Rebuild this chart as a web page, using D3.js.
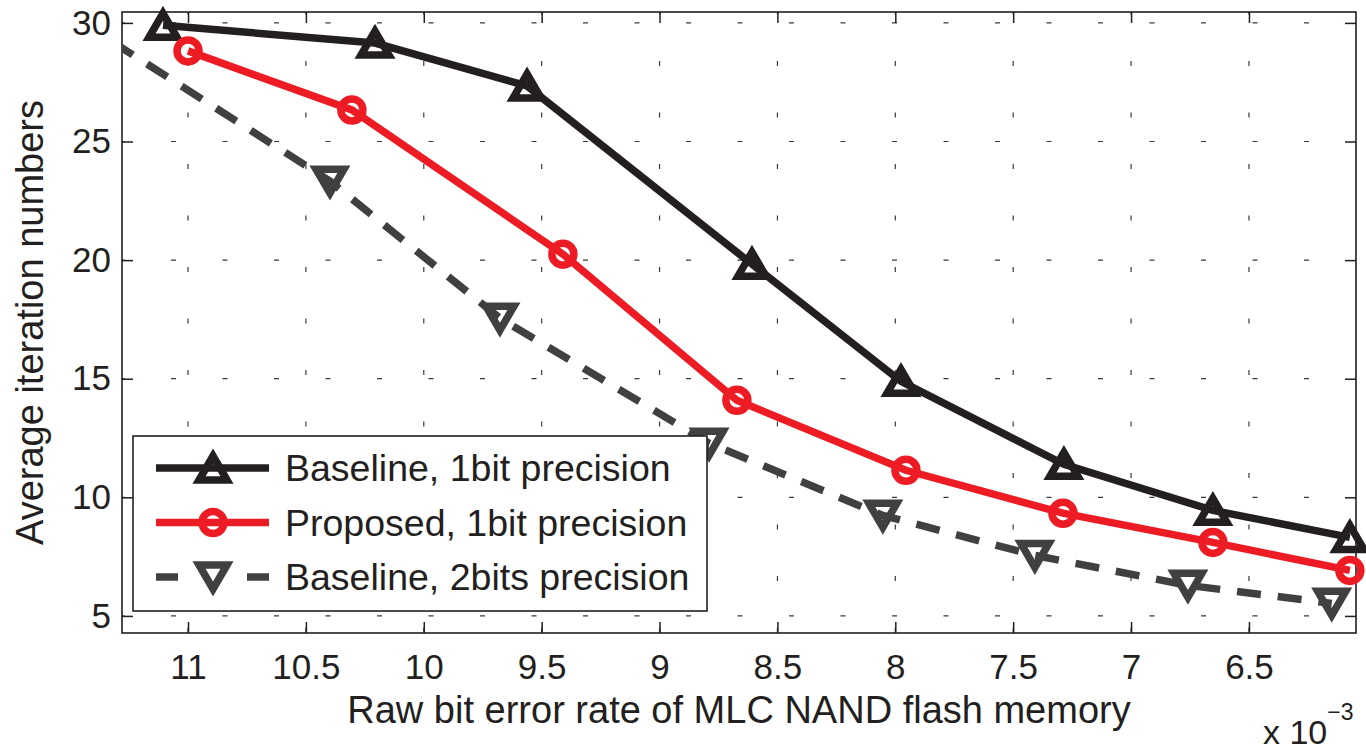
<!DOCTYPE html>
<html>
<head>
<meta charset="utf-8">
<script src="https://cdn.jsdelivr.net/npm/d3@7"></script>
<style>
  body { margin: 0; background: #fff; }
  text { font-family: "Liberation Sans", Arial, sans-serif; fill: #231f20; }
</style>
</head>
<body>
<div id="vi1"></div>
<script>
const margin = { top: 12, right: 10, bottom: 118, left: 122 };
const width = 1366 - margin.left - margin.right;
const height = 751 - margin.top - margin.bottom;

// x values are in units of 1e-3
const xTicks = [11, 10.5, 10, 9.5, 9, 8.5, 8, 7.5, 7, 6.5];
const yTicks = [5, 10, 15, 20, 25, 30];

const base1X = [11.106, 10.207, 9.562, 8.608, 7.976, 7.285, 6.653, 6.072];
const base1Y = [29.9, 29.15, 27.34, 19.83, 14.89, 11.39, 9.45, 8.31];

const propX = [11.0, 10.305, 9.41, 8.672, 7.955, 7.289, 6.653, 6.072];
const propY = [28.82, 26.33, 20.25, 14.09, 11.14, 9.33, 8.10, 6.92];

const base2X = [11.32, 10.398, 9.677, 8.79, 8.053, 7.408, 6.759, 6.149];
const base2Y = [29.2, 23.33, 17.55, 12.28, 9.24, 7.55, 6.29, 5.53];

const seriesNames = ["Baseline, 1bit precision", "Proposed, 1bit precision", "Baseline, 2bits precision"];

const black = "#231f20", red = "#ed1c24", gray = "#404041";
const lw = 7.5;

const series = [
  { name: seriesNames[0], xs: base1X, ys: base1Y, color: black, dash: null, marker: "up" },
  { name: seriesNames[1], xs: propX, ys: propY, color: red, dash: null, marker: "circle" },
  { name: seriesNames[2], xs: base2X, ys: base2Y, color: gray, dash: "24,17", marker: "down" }
];

const svg = d3.select("#vi1")
  .append("svg")
    .attr("width", 1366)
    .attr("height", 751)
  .append("g")
    .attr("transform", `translate(${margin.left}, ${margin.top})`);

const x = d3.scaleLinear().domain([11.28, 6.046]).range([0, width]);
const y = d3.scaleLinear().domain([4.28, 30.46]).range([height, 0]);

svg.append("clipPath").attr("id", "clip")
  .append("rect").attr("width", width).attr("height", height);

// dotted grid
const grid = svg.append("g").attr("stroke", "#3a3a3a").attr("stroke-width", 1.2)
  .attr("stroke-dasharray", "5,46.5").attr("stroke-dashoffset", -49);
grid.selectAll("line.gx").data(xTicks).join("line")
  .attr("x1", d => x(d)).attr("x2", d => x(d))
  .attr("y1", 0).attr("y2", height);
grid.selectAll("line.gy").data(yTicks).join("line")
  .attr("y1", d => y(d)).attr("y2", d => y(d))
  .attr("x1", 0).attr("x2", width);

// axes (ticks inward on all sides)
const tickLen = 11;
const xAxis = g => g.call(d3.axisBottom(x).tickValues(xTicks).tickSizeInner(-tickLen).tickSizeOuter(0).tickPadding(21).tickFormat(d3.format("")));
const yAxis = g => g.call(d3.axisLeft(y).tickValues(yTicks).tickSizeInner(-tickLen).tickSizeOuter(0).tickPadding(11));

svg.append("g").attr("transform", `translate(0, ${height})`).call(xAxis);
svg.append("g").call(d3.axisTop(x).tickValues(xTicks).tickSizeInner(-tickLen).tickSizeOuter(0).tickFormat(""));
svg.append("g").call(yAxis);
svg.append("g").attr("transform", `translate(${width}, 0)`)
  .call(d3.axisRight(y).tickValues(yTicks).tickSizeInner(-tickLen).tickSizeOuter(0).tickFormat(""));

svg.selectAll(".domain").remove();
svg.selectAll(".tick line").attr("stroke", black).attr("stroke-width", 1.5);
svg.selectAll(".tick text").attr("font-size", "35px").attr("fill", black)
  .attr("font-family", "Liberation Sans, Arial, sans-serif");

svg.append("rect")
  .attr("width", width).attr("height", height)
  .attr("fill", "none").attr("stroke", black).attr("stroke-width", 1.6);

// markers
function markerPath(type) {
  if (type === "up") return "M0,-12L14,12L-14,12Z";
  if (type === "down") return "M0,12L14,-12L-14,-12Z";
  return null;
}
function drawMarker(sel, type, color) {
  if (type === "circle") {
    sel.append("circle").attr("r", 11).attr("fill", "none")
      .attr("stroke", color).attr("stroke-width", lw);
  } else {
    sel.append("path").attr("d", markerPath(type)).attr("fill", "none")
      .attr("stroke", color).attr("stroke-width", lw).attr("stroke-linejoin", "miter");
  }
}

const plot = svg.append("g").attr("clip-path", "url(#clip)");

series.forEach(s => {
  const pts = s.xs.map((v, i) => [v, s.ys[i]]);
  plot.append("path")
    .datum(pts)
    .attr("fill", "none")
    .attr("stroke", s.color)
    .attr("stroke-width", lw)
    .attr("stroke-dasharray", s.dash)
    .attr("d", d3.line().x(d => x(d[0])).y(d => y(d[1])));
  pts.filter(d => d[0] <= x.domain()[0]).forEach(d => {
    const g = svg.append("g").attr("transform", `translate(${x(d[0])}, ${y(d[1])})`);
    drawMarker(g, s.marker, s.color);
  });
});

// legend
const legend = svg.append("g").attr("transform", `translate(${133 - margin.left}, ${436 - margin.top})`);
legend.append("rect").attr("width", 574).attr("height", 175)
  .attr("fill", "#fff").attr("stroke", black).attr("stroke-width", 1.6);
series.forEach((s, i) => {
  const ly = 32 + i * 54.5;
  legend.append("line").attr("x1", 23).attr("x2", 136).attr("y1", ly).attr("y2", ly)
    .attr("stroke", s.color).attr("stroke-width", lw)
    .attr("stroke-dasharray", s.dash ? "22,69" : null);
  drawMarker(legend.append("g").attr("transform", `translate(80, ${ly})`), s.marker, s.color);
  legend.append("text").attr("x", 152).attr("y", ly + 13)
    .attr("font-size", "37.5px").text(s.name);
});

// axis labels
svg.append("text")
  .attr("x", width / 2).attr("y", 723 - margin.top)
  .attr("text-anchor", "middle").attr("font-size", "38px")
  .text("Raw bit error rate of MLC NAND flash memory");

svg.append("text")
  .attr("transform", `translate(${43 - margin.left}, ${height / 2}) rotate(-90)`)
  .attr("text-anchor", "middle").attr("font-size", "38px")
  .text("Average iteration numbers");

const expo = svg.append("text")
  .attr("x", 1263 - margin.left).attr("y", 744 - margin.top)
  .attr("font-size", "34px");
expo.append("tspan").text("x 10");
expo.append("tspan").attr("dy", -24).attr("font-size", "23px").text("\u22123");
</script>
</body>
</html>
